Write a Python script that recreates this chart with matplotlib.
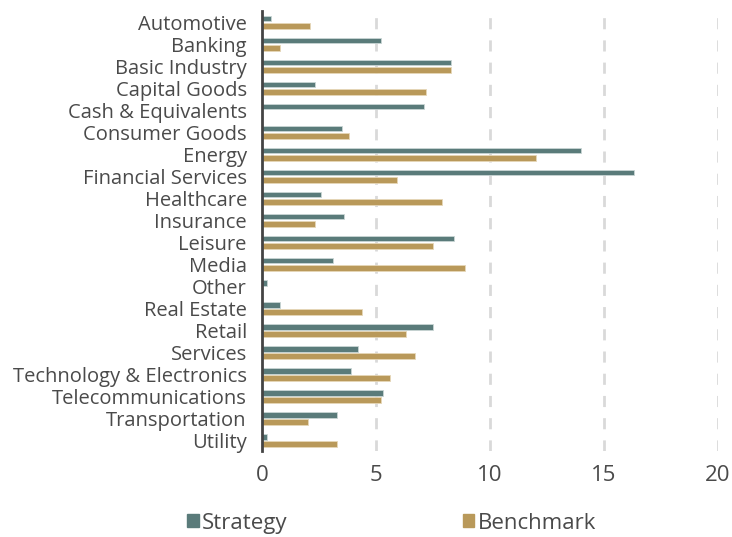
import matplotlib
matplotlib.use("Agg")
import matplotlib.pyplot as plt
from matplotlib.patches import Patch
import numpy as np

plt.rcParams["font.family"] = ["Open Sans", "DejaVu Sans"]

categories = ["Automotive", "Banking", "Basic Industry", "Capital Goods",
              "Cash & Equivalents", "Consumer Goods", "Energy",
              "Financial Services", "Healthcare", "Insurance", "Leisure",
              "Media", "Other", "Real Estate", "Retail", "Services",
              "Technology & Electronics", "Telecommunications",
              "Transportation", "Utility"]
strategy = [0.4, 5.2, 8.3, 2.3, 7.1, 3.5, 14.0, 16.3, 2.6, 3.6, 8.4, 3.1,
            0.2, 0.8, 7.5, 4.2, 3.9, 5.3, 3.3, 0.2]
benchmark = [2.1, 0.8, 8.3, 7.2, 0.0, 3.8, 12.0, 5.9, 7.9, 2.3, 7.5, 8.9,
             0.0, 4.4, 6.3, 6.7, 5.6, 5.2, 2.0, 3.3]
xticks = [0, 5, 10, 15, 20]

c_strat = "#5a7b7a"
c_bench = "#b9995a"
txt = "#4a4a4a"

fig = plt.figure(figsize=(7.32, 5.37), dpi=100)
ax = fig.add_axes([0.358, 0.16, 0.623, 0.8195])

y = np.arange(len(categories))
h = 0.27
ax.barh(y - 0.16, strategy, height=h, color=c_strat, edgecolor="#c9d6d5", linewidth=0.6)
ax.barh(y + 0.16, benchmark, height=h, color=c_bench, edgecolor="#e6d7b8", linewidth=0.6)

ax.set_ylim(len(categories) - 0.5, -0.5)
ax.set_xlim(0, 20)
ax.set_yticks(y)
ax.set_yticklabels(categories, fontsize=14.5, color=txt, va="center_baseline")
ax.set_xticks(xticks)
ax.set_xticklabels([str(t) for t in xticks], fontsize=16, color=txt)
ax.tick_params(axis="y", length=0, pad=11)
ax.tick_params(axis="x", length=0, pad=10)

for t in xticks[1:]:
    ax.axvline(t, color="#d9d9d9", linewidth=2, linestyle=(0, (4, 4)), zorder=0)

for s in ["top", "right", "bottom"]:
    ax.spines[s].set_visible(False)
ax.spines["left"].set_color("#444444")
ax.spines["left"].set_linewidth(2)

handles = [Patch(color=c_strat, label="Strategy"), Patch(color=c_bench, label="Benchmark")]
fig.legend(handles=handles, loc="center", bbox_to_anchor=(0.535, 0.026), ncol=2,
           frameon=False, fontsize=16, labelcolor=txt, handlelength=0.5,
           handleheight=0.5, handletextpad=0.15, columnspacing=7.9,
           borderpad=0.1)

fig.savefig("out.png", dpi=100)
